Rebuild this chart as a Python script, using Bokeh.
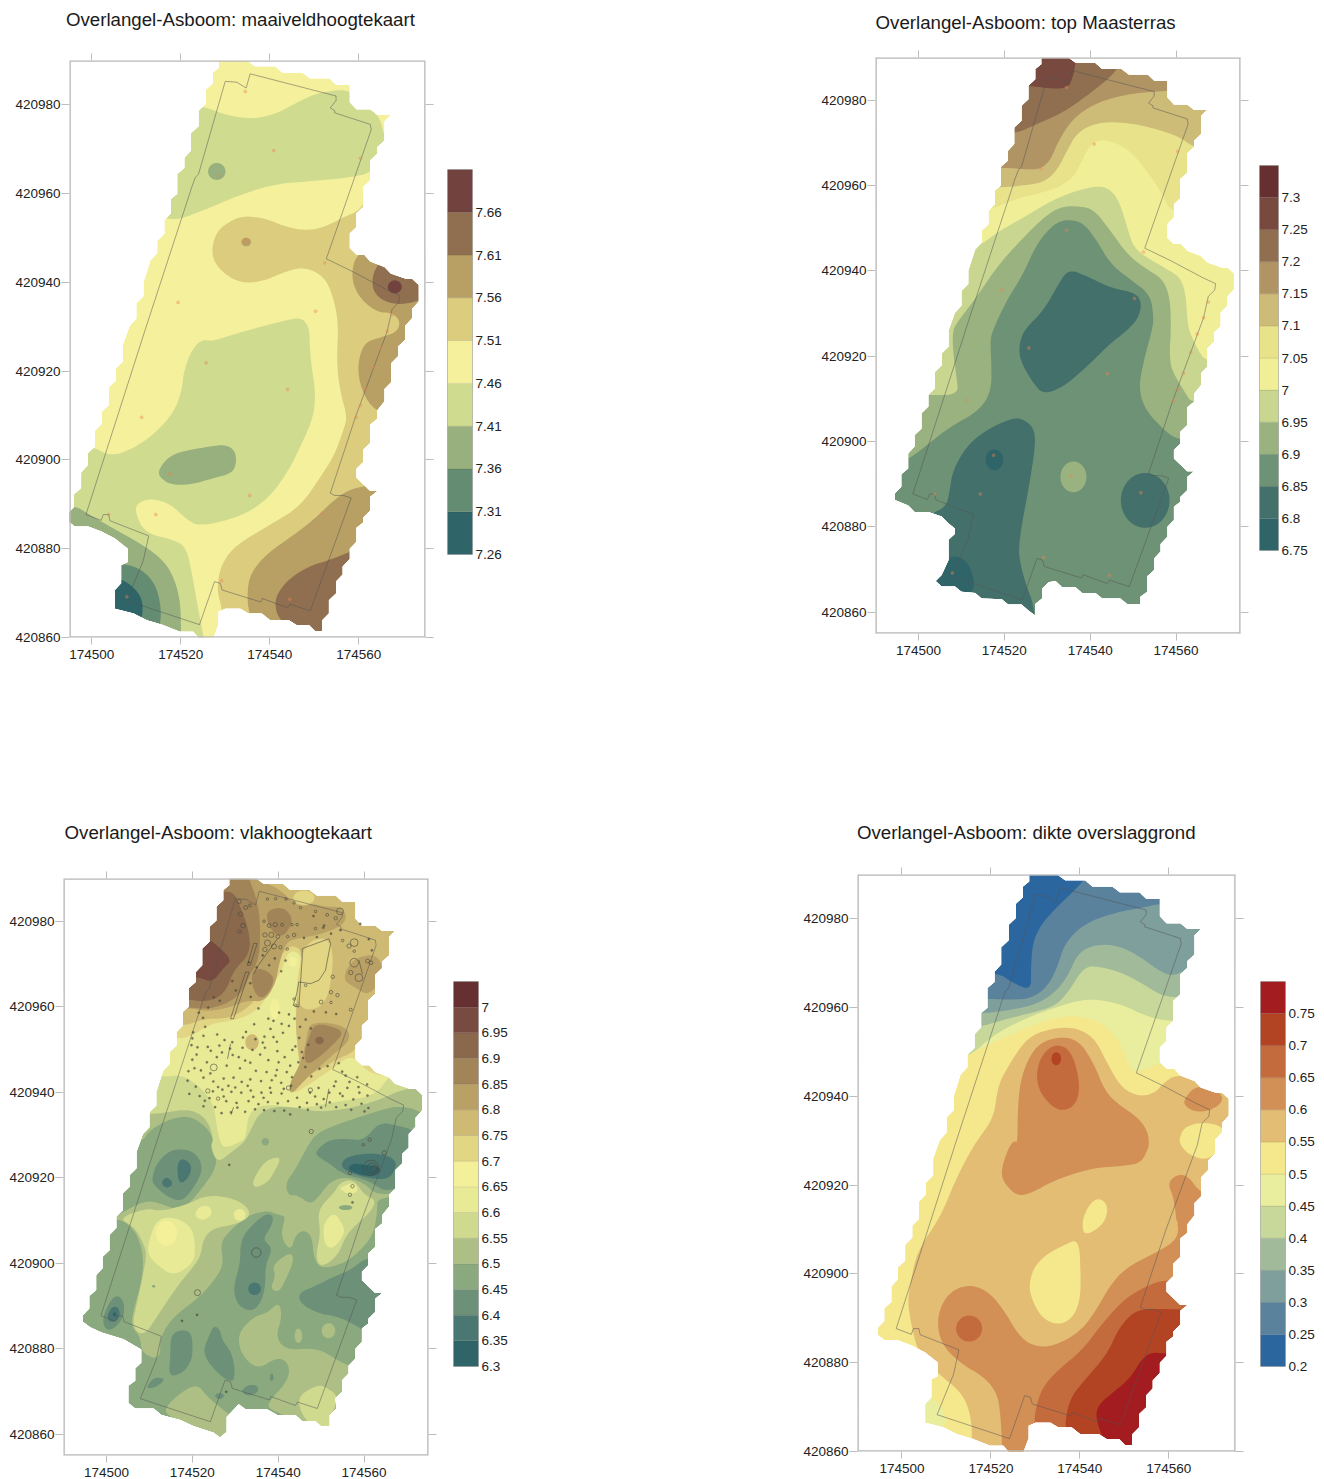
from bokeh.plotting import figure
from bokeh.layouts import row, column
from bokeh.models import LinearAxis, FixedTicker, Range1d, Spacer, Title
from bokeh.embed import file_html
from bokeh.resources import INLINE
import math

X0, Y0 = 174500, 420000
FONT = "Liberation Sans"
TICK_GREY = "#bdbdbd"
TEXT = "#222222"
X_TICKS = [174500, 174520, 174540, 174560]
Y_TICKS = [420860, 420880, 420900, 420920, 420940, 420960, 420980]

# map outline of the interpolated area, metres relative to X0 / Y0
NORTH = [(7,926),(8.5,930.2),(10,931.8),(10,935.3),(11.6,936.9),(11.6,940),(13.2,945),(14.7,946.6),(14.7,949.4),
 (16.3,950.9),(16.3,954),(17.8,955.6),(17.8,958.8),(19.2,960),(19.2,964.4),(20.8,965.8),(20.8,968.1),(22.3,969.7),
 (22.3,973.6),(24,975.2),(24,978.7),(25.6,980.2),(25.6,983.4),(27.2,984.9),(27.2,987.3),(28.6,988.4),(28.6,990),
 (34.9,990),(36.7,988.7),(41.2,988.7),(42.8,987.3),(47.3,987.3),(49,986),(53.4,986),(55,984.5),(58,984.5),(58,980.6),
 (59.5,979),(62.6,979),(64.2,977.7),(67.2,977.7),(65.8,976.3),(65.8,972),(64.2,970.5),(64.2,969),(62.6,967.5),
 (62.6,963),(61,961.5),(61,957),(59.5,955.6),(59.5,952.5),(58,951),(58,947.7),(59.5,946.3),(61.2,946.3),(62.6,944.7),
 (65.8,943.5),(67.2,942),(70.6,940.8),(72,940.8),(73.5,939.4),(73.5,935.7),(72,934),(72,931.9),(70.4,930.2),(70.4,927),
 (68.9,925.6),(68.9,923.4),(67.3,921.8),(67.3,917.5),(65.8,916),(65.8,913.2),(64.2,911.2),(64.2,909.3),(62.6,908),
 (62.6,903.8),(61,902.3),(61,899.5),(59.5,898),(59.5,896),(62.6,893),(64.2,893),(62.6,891.7),(62.6,888.6),(61,887),
 (61,885.9),(59.5,884.7),(59.5,881.6),(58,880),(58,877.7),(56.4,876),(56.4,874.2),(54.9,872.6),(54.9,869.9),(53.3,868.4)]
WEST = [(-5.5,886.3),(-5.5,887.8),(-4,889.4),(-4,892.3),(-2.4,893.7),(-2.4,897.2),(-0.9,898.8),(-0.9,901.5),(0.7,903),
 (0.7,906.6),(2.3,908.2),(2.3,910.9),(3.8,912.4),(3.8,916.3),(5.4,917.9),(5.4,920.6),(7,922.2)]
SOUTH_TR = [(53.3,864.8),(51.7,863.6),(51.7,861.9),(48.6,861.9),(47,863.2),(42.8,863.2),(41.2,864.5),(38.1,864.5),
 (36.5,865.9),(33.4,865.9),(31.9,867.3),(30.3,867),(28.8,865.5),(28.8,863.2),(27.2,861.9),(27.2,859.2),(25.6,860.4),
 (24,861.8),(20.9,861.8),(19.4,863),(14.7,863.2),(13.2,864.5),(10,864.8),(8.5,866),(5.4,866),(4,867.3),(5.4,868.7),
 (7,872.2),(7,877),(8.5,878.4),(8.5,879.6),(7,880.8),(5.4,882.4),(2.3,883.5),(-0.9,883.5),(-2.4,885)]
SOUTH_TL = [(53.3,865.4),(51.8,863.9),(51.8,861.4),(50.2,861.4),(48.8,862.8),(46,862.8),(44.3,863.9),(40.1,863.9),
 (38.2,865.4),(35.2,865.4),(33.4,866.5),(30,866.5),(28.5,865.8),(28.5,863),(27,859),(24.8,859),(22.8,861.3),(19.8,861.3),
 (16,862.8),(12.4,863.9),(9.4,865.4),(5.2,866.5),(5.2,870.7),(6.6,872.2),(6.6,876.3),(8.1,877),(8.1,880),(5.2,882.3),
 (2.3,883.8),(-0.8,885),(-3.8,885)]
SOUTH_BL = [(53.6,866),(52,864.5),(52,861.9),(49.9,861.9),(48.7,863),(45.6,863),(44,864.5),(39.8,864.5),(37.4,865.8),
 (32.4,865.8),(30.8,867),(28,864),(28,860.5),(26.4,859.2),(25,860.3),(20.2,861.9),(17.2,863.3),(12.8,864.5),(11,866),
 (6.7,866),(5.1,867.3),(5.1,871.3),(6.7,872.5),(6.7,875.4),(8.1,876.7),(8.1,879.8),(4,882.2),(-1.1,883.8),(-3.8,885)]

# excavation outline, drawn on all four maps
SITE_X = [35.6,54.9,54.9,53.6,54.6,54.6,62.6,62.8,52.7,54.4,58.9,66.4,69.2,69,67.5,66.4,59.3,53.6,54.6,56.6,58.3,49.1,44.5,44,38.3,38,29.3,28.9,27.6,24.2,7.9,11.6,12.8,4.1,3.8,2.6,2.1,-1.3,12,22.1,22.3,23.3,24,30,32.6,34.7,35.6]
SITE_Y = [987,982,981,979.3,978.7,978.2,975.6,974.4,945.3,944.5,942.3,938.3,937,935.5,934,929,909.8,892.5,892,892,891.4,866,867.5,866.7,868.8,868,870.7,872.2,872.6,862.9,868.3,877.4,882.9,886.3,887.7,887.7,886.4,887.7,929.3,960.3,961,963.7,964.4,985.3,985.1,983.8,987]

# borehole positions
BORE_X = [34.5,40.9,60.4,28.5,34.5,52.4,19.4,50.3,67.5,66.4,64.9,63.4,61.7,60.4,59.4,25.7,44,11.2,17.5,35.5,51.8,14.4,3.8,29.2,7.9,44.5]
BORE_Y = [983,969.7,968,964,949.5,944.4,935.5,933.5,932.7,929,925.2,920.9,916,912.3,909.6,921.9,915.9,909.6,896.8,892,888,887.7,887.7,872.8,869.2,868.6]

def ell(cx, cy, rx, ry):
    return [(cx + rx*math.cos(2*math.pi*i/14), cy + ry*math.sin(2*math.pi*i/14)) for i in range(14)]

# ---- colour scales (lowest class first)
TL_VALUES = [7.26,7.31,7.36,7.41,7.46,7.51,7.56,7.61,7.66]
TL_COLORS = ["#2f6468","#648c72","#97b07d","#cfdb8f","#f5f09b","#dccd7e","#b8a064","#906f50","#72423e"]
TR_VALUES = [6.75,6.8,6.85,6.9,6.95,7.0,7.05,7.1,7.15,7.2,7.25,7.3]
TR_COLORS = ["#2f6468","#44706c","#6e9275","#99b27f","#c8d690","#f0ef98","#e8e28b","#cdbb78","#b19464","#906f50","#77493f","#662f30"]
BL_VALUES = [6.3,6.35,6.4,6.45,6.5,6.55,6.6,6.65,6.7,6.75,6.8,6.85,6.9,6.95,7.0]
BL_COLORS = ["#2f6468","#4a7771","#6d9078","#8aa97e","#adbf85","#cfda8f","#e9ea96","#f4f09a","#e2d583","#cfba74","#b9a065","#a28459","#8a684c","#774b40","#662f30"]
BR_VALUES = [0.2,0.25,0.3,0.35,0.4,0.45,0.5,0.55,0.6,0.65,0.7,0.75]
BR_COLORS = ["#2c669e","#5a829d","#7f9f9c","#a1ba9a","#c8d79a","#e9ed9e","#f5e78c","#e3bd74","#d29056","#c46b3e","#b24424","#a21c20"]

# ---- maaiveldhoogte
TL_BASE = TL_COLORS[4]
TL_LAYERS = [
 (TL_COLORS[3],[(16.9,953.3),(25.9,956.5),(31.9,959.2),(40.9,962.2),(50.6,962.9),(61.1,964),(63.8,965.9),(66.4,970.5),(65.6,973.8),(64.5,977.6),(61.9,979.5),(58.1,983.6),(51.4,982.9),(46.9,981),(41.6,978),(36.4,976.8),(30.4,977.6),(25.5,979.5),(22,980),(15,973.5),(12,958.4)]),
 (TL_COLORS[2],ell(28.1,965,2,1.95)),
 (TL_COLORS[5],[(60.4,956.3),(56.6,954.7),(52.1,952.4),(48.4,951.7),(43.9,952.4),(39.4,954.3),(34.9,955),(31.9,954.3),(28.1,951.7),(26.8,947.1),(28.1,943.4),(32.6,940),(37.9,940),(43.9,942.6),(47.6,943.4),(51.4,941.9),(53.6,938.9),(55.5,931.4),(55,921.8),(55.9,915),(57.4,909.8),(56.6,906.8),(54.4,900.8),(51.4,896.2),(46.9,889.5),(39.4,885),(31.9,880.5),(28.9,876),(28.1,870.7),(29.3,866.5),(30,858),(80,858),(80,960),(62,960)]),
 (TL_COLORS[6],ell(34.7,949.1,1.1,1)),
 (TL_COLORS[6],[(59.6,946.5),(58.4,942.6),(58.9,938.9),(61.1,935.5),(64.5,933.2),(67.5,933.2),(69.4,931.2),(68.5,928.7),(64.1,927.4),(61.1,926.3),(59.6,921),(60.8,915),(64.1,910.5),(72,910),(80,930),(80,950),(66,950)]),
 (TL_COLORS[6],[(58.9,894),(54.4,891),(50.6,887.2),(46,883.5),(39.4,879),(35.6,874.4),(34.9,869.9),(35.3,865.4),(38,858),(70,860),(70,895)]),
 (TL_COLORS[7],[(64.1,943.9),(63,941.1),(63.2,938.1),(65.3,935.9),(68.6,935),(72.4,935.5),(80,938),(80,945),(68,948)]),
 (TL_COLORS[7],[(58.9,879.7),(54.4,877.8),(48.4,875.9),(43.9,872.9),(41.3,869.2),(41.3,866.2),(42.4,863.9),(48,858),(62,860),(62,880)]),
 (TL_COLORS[8],ell(68.1,939,1.6,1.5)),
 (TL_COLORS[3],[(48.8,932.5),(41.6,931),(31.9,928.3),(27.4,926.8),(24.4,927.1),(22.1,924.1),(20.6,919.5),(20.3,915.8),(18.4,910.5),(13.1,904.9),(7.1,901.5),(3.4,901.1),(0.4,903),(-12,905),(-12,880),(10,855),(26,855),(25.1,860.2),(24.4,863.9),(23.3,869.9),(22.1,876.7),(21,880.5),(18.4,882),(12,883.5),(9.8,888),(10.1,890.2),(13.1,891.4),(17.6,890.2),(21.4,886.5),(24.4,885),(33.4,887.2),(39.4,891),(43.9,897),(46.9,903),(49.9,909.8),(50.3,915.8),(49.1,922.6)]),
 (TL_COLORS[2],[(15,897.7),(16.9,900.4),(19.9,901.9),(27.4,903.2),(30.4,903.4),(32.3,901.9),(32.5,899.2),(31.5,897),(27.4,895.9),(22.1,894.4),(17.6,894.4),(15.2,896.2)]),
 (TL_COLORS[2],[(-3.8,889.8),(-1.1,888),(4.1,885),(11.6,880.8),(16.1,877.4),(18.4,873.7),(19.9,868.4),(20.1,861.3),(20,855),(0,855),(-12,875),(-12,889)]),
 (TL_COLORS[1],[(6.6,876.7),(10.9,875.6),(14.3,872.2),(15.6,866.9),(15.4,862.4),(12,855),(0,860),(0,878)]),
 (TL_COLORS[0],[(6.4,873.3),(9.4,871.4),(11.3,868.8),(11.5,865.4),(10.9,863.9),(5,860),(0,868),(0,875)]),
]

# ---- top Maasterras
def south_of(pts, east=(85,915)):
    return pts + [east, (85,840), (-15,840), (-15, pts[0][1])]
TR_BASE = TR_COLORS[10]
TR_LAYERS = [
 (TR_COLORS[9],[(10,983.4),(26,983.4),(30.7,982.7),(34.6,982.8),(35.7,984.5),(36.7,988.7),(37,995),(90,995),(90,840),(-15,840),(-15,983)]),
 (TR_COLORS[8],[(10,972),(22.5,972),(27.5,974.4),(33.8,977.1),(40.8,982.2),(46.6,987.1),(50,995),(90,995),(90,840),(-15,840),(-15,972)]),
 (TR_COLORS[7],[(10,964),(20.2,964.2),(24.4,963.8),(28.3,963.8),(30.7,965.8),(32.6,970.5),(36.1,975.9),(41.6,979.5),(48.6,981.4),(54.8,982),(57.9,982.2),(90,982.2),(90,840),(-15,840),(-15,964)]),
 (TR_COLORS[6],south_of([(19,959.5),(24.4,960),(29.1,960.7),(32.2,963.4),(34.6,968.1),(36.9,972.4),(41.6,974.8),(48.6,974.8),(55.6,973.2),(61,971.3),(64.1,968.9)],(85,962))),
 (TR_COLORS[5],south_of([(16.3,954),(21.3,956.4),(27.5,958),(32.6,959.5),(36.1,961.9),(38.1,965.8),(40,969.7),(43.1,970.9),(48.6,968.9),(53.2,963.4),(56.3,958.8),(59.5,952.5)],(85,950))),
 (TR_COLORS[4],south_of([(13.2,945),(18.2,949),(25.2,952.9),(32.2,957.2),(41.6,960.2),(45.1,958.8),(47,955.6),(48.6,950.2),(50.1,945.5),(53.2,943.1),(57.9,940.4),(61,938.4),(62.2,934.9),(62.6,929),(63,926),(64.8,922),(67.1,918.3)],(85,917))),
 (TR_COLORS[3],[(-15,910.9),(2.3,910.9),(9.3,910.9),(8.9,915),(8.1,920.6),(7.9,926),(9.3,928.3),(13.5,933.8),(18.2,940.8),(22.9,946.2),(29.1,952.5),(33,955),(36.9,955.2),(40.8,954.5),(44.7,949.4),(48.6,943.9),(52.5,940.8),(57.1,938),(58.7,933),(58.8,925.2),(58.5,922.2),(58.7,917.5),(60.3,914.4),(62.2,911.3),(63.7,908.9),(85,905),(85,840),(-15,840)]),
 (TR_COLORS[2],[(-15,890),(-2.3,895.8),(1.9,899.1),(7.3,903.4),(14.3,907.3),(17,912),(17,918.3),(16.7,923.8),(17.4,926.3),(20.5,933),(24.4,939.2),(27.5,946.3),(31.4,950.9),(34.6,952.1),(38.4,951.3),(41.6,947),(44.7,941.6),(49.3,938),(54,934.5),(54.8,929),(54.4,926.1),(52.5,919.1),(51.3,912.8),(52.5,908.1),(55.6,904.2),(61,899.5),(85,899.5),(85,840),(-15,840)]),
 (TR_COLORS[1],[(34.9,940.4),(39.2,938.8),(44.7,936),(50.5,934.9),(52,932.6),(51.3,929),(48.6,926),(44.7,923),(39.2,917.5),(33.8,912.8),(29.1,911),(26.8,913.6),(24,918.3),(23.3,921.8),(24.4,926),(29.1,930.6),(32.6,936.9)]),
 (TR_COLORS[1],[(24.1,905.4),(21.8,905.4),(17,903.4),(11.6,899.5),(8,893.3),(7.3,888.6),(6.5,884.7),(3,883.1),(0,880),(0,865),(10,858),(27.3,855),(26.8,862),(25.2,865.9),(23.7,871.4),(23.3,875.3),(24.4,882.3),(26,890.9),(27.3,899.5),(26.8,903.4)]),
 (TR_COLORS[0],ell(17.7,895.7,2.1,2.5)),
 (TR_COLORS[0],[(5.4,871.4),(8.1,873.4),(11.2,872.2),(13,867.9),(12.8,864.8),(8,860),(0,866)]),
 (TR_COLORS[1],ell(52.8,886.2,5.8,6.6)),
 (TR_COLORS[3],ell(36.1,891.7,3.1,3.7)),
]

# ---- vlakhoogte
BL_BASE = BL_COLORS[3]
BL_LAYERS = [
 (BL_COLORS[4],[(-15,910),(2.3,910.9),(6.3,908.2),(8.2,903.9),(8.6,899.2),(7.9,894.5),(6.3,889.1),(5.7,885.2),(7.9,882.8),(8.2,878.9),(12.5,877.3),(12.5,882.8),(15.6,887.5),(21.9,892.2),(25.8,896.9),(27.3,900),(26.5,904.7),(28.9,907.8),(33.2,911.3),(37.4,912.3),(39,911.7),(40.9,911.1),(41.7,910.9),(40.5,906.3),(42.9,902.7),(44,906.6),(46,907.8),(47.9,906.3),(48.3,900.8),(50.3,898.6),(55.3,900),(58.4,902.3),(62,906.3),(63.1,911.7),(63,916),(85,916),(85,995),(-15,995)]),
 (BL_COLORS[3],[(-15,925),(8.2,927.9),(9.8,931),(14.9,933.8),(19.5,934.5),(23.4,931.8),(25,928.7),(25.8,926.6),(25.4,921.9),(22.6,918),(19.5,914.1),(16.4,912.5),(13.3,913.7),(9.4,914.8),(4,912.1),(2.3,910.8),(-15,905)]),
 (BL_COLORS[3],[(41.7,918.8),(44,921.9),(46.4,926.6),(48.7,930.2),(53,932.2),(57.7,933.8),(62.3,935.3),(67.8,936.9),(73.2,935.7),(80,930),(80,912),(68.6,916.4),(62.7,916),(60,918.8),(55.3,920.3),(51.8,918.8),(49.5,915.6),(47.5,913.7),(44.4,916),(42.3,915.8)]),
 (BL_COLORS[5],[(-15,935),(9.8,934.8),(14.1,935.3),(19.5,936.1),(23.4,933.8),(25,929.1),(24.2,927.3),(25.8,923.4),(28.9,925.8),(32,928.1),(33.5,931),(35.9,935.7),(41.3,936.9),(49.1,935.3),(56.1,936.1),(63.1,938),(70.1,941.2),(85,942),(85,995),(-15,995)]),
 (BL_COLORS[6],[(-15,945),(12.9,943.5),(17.6,944.1),(21.9,941.2),(25,937.3),(25.8,931),(26.9,927.1),(28.9,927.3),(32,928.9),(32.4,929.5),(33.2,935.7),(37.4,937.3),(45.2,936.1),(53,937.7),(60.8,938.8),(63.9,940.8),(66.2,944.3),(85,950),(85,995),(-15,995)]),
 (BL_COLORS[8],[(-15,955),(16,952.5),(19.5,952.9),(24.2,956),(28.5,956.6),(32.4,957.6),(36.3,960.3),(38.2,964.6),(40.5,967.7),(42.1,972.4),(43.7,973.2),(45.6,971.6),(44.4,967),(44,957.6),(44.4,952.1),(45.6,946.6),(44.8,942.7),(42.9,939.2),(47.5,942),(52.6,945.5),(56.1,948.2),(58.1,947.8),(60.8,944.7),(65.8,943.5),(85,945),(85,995),(-15,995)]),
 (BL_COLORS[9],[(-15,955),(17.6,955.2),(22.6,957.2),(28.1,957.2),(32,959.1),(34.7,961.5),(37,966.6),(39.8,970.9),(41.7,973.2),(43.3,974.4),(45.6,973.2),(44.8,967),(44,957),(44.4,951.3),(45.2,945.1),(45.2,943.5),(49.5,945.1),(53.8,947.8),(57.7,949.4),(58.8,952.1),(85,952),(85,995),(-15,995)]),
 (BL_COLORS[8],[(45.6,973.2),(48.3,975.9),(51.8,975.9),(52.9,971.6),(52.2,965.4),(51.4,962.3),(49.9,959.9),(46.4,959.1),(44.4,961.1),(44.8,967)]),
 (BL_COLORS[10],[(-15,958),(18.8,959.9),(23.4,958.8),(28.9,959.9),(32.8,961.5),(36.7,961.1),(39.4,965.4),(40.2,970.1),(41.7,974.8),(43.7,975.9),(49.1,976.7),(54.6,978.7),(56.1,981),(54.6,983.4),(50.7,983.4),(48.3,984.1),(45.2,983.4),(42.9,984.9),(40.5,987.3),(36.7,989.2),(35.9,990.4),(36,995),(-15,995)]),
 (BL_COLORS[8],ell(46,985.5,2.5,1.7)),
 (BL_COLORS[10],[(56.1,969.3),(55.2,966.2),(57.7,964.6),(61.2,962.4),(64.7,967.7),(63.1,972.4),(58.4,971.6)]),
 (BL_COLORS[10],[(46.8,954.1),(47.5,956),(51,956.4),(56.1,955.2),(56.8,952.1),(53,949),(49.5,945.9),(46.4,943.1),(42.9,939.2),(42.5,941.9),(44.8,945.9),(46.1,949.8)]),
 (BL_COLORS[11],[(47.2,952.9),(48,955.2),(49.9,956),(53,955.2),(55.3,954),(53,951.3),(49.1,947.8),(46.4,946.3),(46.1,949.8)]),
 (BL_COLORS[12],ell(49.6,952.1,1,0.9)),
 (BL_COLORS[9],ell(33.9,951.7,1.6,1.9)),
 (BL_COLORS[11],[(-15,960),(18.8,959.9),(23.4,959.4),(28.1,960.7),(31.6,963.4),(33.2,967),(35.5,970.9),(35.9,978.7),(35.1,984.9),(33.2,990),(33.2,991),(-15,995)]),
 (BL_COLORS[12],[(-15,962),(18.8,961.9),(21.9,961.1),(25.8,961.9),(28.1,964.2),(29.6,968.5),(33.5,972.4),(33.2,977.9),(31.2,983.4),(29.6,986.9),(26.9,986.9),(-15,987)]),
 (BL_COLORS[13],[(23,976.3),(25.3,974.8),(29.3,970.9),(27.4,969.3),(24.6,965.5),(21.1,967.3),(10,966),(10,977)]),
 (BL_COLORS[11],[(37.4,982.6),(41.3,983.4),(43.7,980.3),(41.3,976.3),(39,977.1),(37.4,979.8)]),
 (BL_COLORS[11],[(33.5,967),(35.1,969.3),(38.6,967.7),(39,965.4),(36.7,961.9),(34.7,962.7)]),
 (BL_COLORS[7],ell(43.4,970.5,1,1.2)),
 (BL_COLORS[7],ell(39.2,959.5,1.1,2.4)),
 (BL_COLORS[3],ell(37,928.4,0.9,0.9)),
 (BL_COLORS[2],[(48.7,926.2),(51.8,928.9),(56.1,929.1),(60,928.7),(63.5,933),(67.8,932.2),(72.1,931),(80,925),(75,916),(67.4,917.6),(64.7,916.8),(60.8,919.5),(55.3,920.7),(51.8,923.4),(49.1,925)]),
 (BL_COLORS[1],[(54.4,923),(56.1,925),(61.6,925.8),(66.2,925),(67.8,923),(65.8,919.5),(60.8,919.9),(56.1,921.4)]),
 (BL_COLORS[0],[(56,922.3),(57.7,923.4),(60,923),(63.5,922.7),(63.9,921.1),(61.6,920.2),(57.7,921.1)]),
 (BL_COLORS[2],[(10.6,919.9),(11.7,923.4),(14.9,926.6),(19.5,926.6),(21.9,924.2),(22.3,921.1),(19.5,916.4),(17.2,914.4),(14.1,915.6),(11,918.3)]),
 (BL_COLORS[1],[(16.4,923),(17.6,924.6),(19.5,923.4),(19.8,921.5),(18.4,919.1),(16.8,918.7)]),
 (BL_COLORS[1],[(12.8,919.1),(14.1,920.3),(15.6,918.7),(14.5,917.6),(13.3,917.9)]),
 (BL_COLORS[5],[(9.4,912.9),(12.5,912.1),(18.8,913.7),(23.4,916),(29.6,915.2),(33.2,912.9),(33.2,910.5),(29.6,909),(25,908.2),(22.6,905.9),(21.9,901.6),(20.3,899.2),(16.4,894.5),(11.8,887.5),(8.6,882.8),(5.9,885.2),(7.1,890.6),(8.6,897.7),(9.4,902.3),(8.2,905.5),(6.3,908.6),(2.8,910.5)]),
 (BL_COLORS[6],[(11.8,910.2),(15.6,910.9),(19.9,908.6),(20.7,903.9),(20.3,900),(15.6,896.9),(11.8,899.6),(9.4,902.3),(10.2,906.3)]),
 (BL_COLORS[7],ell(14,907,2.5,3)),
 (BL_COLORS[6],[(20.3,911.3),(21.9,913.5),(24.2,913.3),(24.6,911.3),(22.3,909.8)]),
 (BL_COLORS[6],ell(31,911.3,1.4,1.4)),
 (BL_COLORS[5],[(37.4,924.2),(40.9,925),(39,921.1),(37.4,918.8),(34.7,917.6),(33.9,918.8),(35.5,921.9)]),
 (BL_COLORS[5],[(48.7,901.6),(49.9,907),(49.1,912.5),(53,916.4),(54.6,919.1),(57.7,919.5),(60,916),(62.8,914.8),(61.6,912.1),(57.7,908.6),(55.7,906.3),(53.8,901.6),(49.9,898.9)]),
 (BL_COLORS[6],[(50.7,909.4),(53,912.1),(55.3,908.6),(55.3,906.6),(53,903.5),(51,903.9),(50.5,907)]),
 (BL_COLORS[6],[(54.4,917.6),(57.7,919.1),(58.8,916.8),(56.5,916),(54.6,917.2)]),
 (BL_COLORS[3],ell(55.7,913,1.6,0.6)),
 (BL_COLORS[2],[(37.4,911.7),(39,910.9),(38.2,908.2),(36.3,905.5),(38.8,903.5),(37,899.6),(37,894.5),(35.9,890.6),(33.9,888.7),(30.8,889.8),(29.4,893.8),(31.2,900),(31.2,905.5),(34.3,909.4)]),
 (BL_COLORS[4],[(38.6,899.6),(42.9,902.7),(43.7,900.8),(42.1,896.9),(40.2,893.1),(38.1,894.1),(39.4,896.9)]),
 (BL_COLORS[1],ell(34.5,894,1.5,1.5)),
 (BL_COLORS[4],[(40.2,891),(40.9,887.5),(39.4,882.8),(41.7,879.7),(48.3,880.1),(51.4,878.9),(54.9,876.6),(57.7,875.8),(56.1,869.5),(53,864),(52.2,860.9),(49.1,860.9),(45.2,862.9),(38.2,865.6),(37.4,867.2),(42.5,872.7),(42.5,876.6),(39.8,878.1),(35.1,875),(31.2,878.9),(30.6,883.6),(34.3,887.5),(37.4,888.3)]),
 (BL_COLORS[4],ell(44.7,883,0.9,1.7)),
 (BL_COLORS[4],ell(51.7,884.2,1.6,1.8)),
 (BL_COLORS[5],[(44.4,868.8),(49.1,871.5),(51,871.1),(54.2,868.8),(52.2,864.1),(52.2,860.9),(49.1,860.9),(45.6,864.1)]),
 (BL_COLORS[4],[(13.3,865.6),(16.4,869.1),(21.1,871.9),(23.4,868.8),(27.3,865.6),(29.3,864.1),(28.1,859),(25,859.4),(18.8,861.7),(14.9,864.1)]),
 (BL_COLORS[2],[(14.9,882.8),(16.8,884.4),(19.9,884),(20.1,878.9),(19.5,876.6),(17.6,874.2),(14.5,873.4),(14.9,878.1)]),
 (BL_COLORS[2],[(25,885.5),(26.5,884.4),(26.9,882),(29.3,878.9),(30,874.2),(29.3,871.9),(25.8,874.2),(22.3,878.9),(23.8,882.8)]),
 (BL_COLORS[2],[(9.4,871.1),(11,873.3),(13.9,873),(11.8,871.1),(9.8,870.7)]),
 (BL_COLORS[2],[(31.2,869.9),(32.8,871.5),(35.1,871.5),(35.5,869.9),(33.2,868.8)]),
 (BL_COLORS[2],[(25,868.8),(26.1,869.8),(27.7,869.1),(26.5,868)]),
 (BL_COLORS[2],ell(38.5,873.3,0.4,0.9)),
 (BL_COLORS[2],[(-1.1,886.7),(0.9,891.4),(2.8,892.6),(4.2,890.6),(4,887.5),(2.4,885.2),(0.1,884)]),
 (BL_COLORS[1],[(0.1,887.5),(1.2,889.8),(2.8,889.8),(3.2,887.5),(2,886.3),(0.7,886.3)]),
 (BL_COLORS[0],ell(1.9,888,0.4,0.5)),
 (BL_COLORS[2],[(44.7,893),(48.3,894.5),(53,896.9),(56.9,898.4),(60.8,901.6),(70,902),(70,880),(60,884),(58.1,885.5),(53.8,887.5),(49.1,888.3),(45.2,890.6)]),
 (BL_COLORS[3],ell(11,894.6,0.4,0.3)),
]
# archaeological features on the vlakhoogte map: x, y, radius
FEATURE_RINGS = [(30.9,984.6,.5),(31.2,981.7,.5),(31.8,979,.55),(32.4,983.2,.45),(31,977.6,.4),(33.4,983.7,.35),(37.5,985.2,.3),(39.4,985.3,.3),(41.8,985.2,.3),(43.7,984.3,.3),(45.2,983.2,.3),(48.7,982.3,.3),(51.4,981.5,.35),(53.4,980.7,.4),(54.4,982.3,.8),(36.7,980,.3),(37.9,979,.45),(39.3,979.2,.5),(40.9,979.2,.35),(43.2,979.2,.3),(44.4,979.2,.3),(36.9,976.8,.5),(38.4,976.8,.6),(39.9,976.4,.45),(42.2,976.4,.3),(43.7,976.8,.4),(37.5,974.9,.7),(39,974.1,.6),(36.9,973.4,.5),(40.5,973.9,.4),(42.1,973.5,.3),(48.7,978.3,.3),(55,975.5,.3),(57.7,975,.9),(56.5,974.2,.5),(57.7,973,.3),(57.7,970.3,1),(60.8,970.7,.45),(61.6,970.3,.45),(56.9,968,.5),(58.8,966.8,.9),(52.7,967,.4),(52.3,963.4,.4),(53.8,962.7,.4),(50,961.1,.45),(52.3,961,.3),(56.9,959.3,.35),(46.4,965,.3),(43.7,961.8,.3),(44.1,960.3,.3),(25,945.8,.8),(23.6,940.3,.5),(26,938.5,.4),(47.5,940.5,.5),(42.4,941,.5),(47.7,930.8,.5),(61.6,922.3,1.8),(61.8,922.2,1.2),(62.2,922.1,.7),(64.7,925.8,.5),(34.9,902.5,1.1),(21.2,893.1,.7),(56.7,921.1,.4),(57.3,918,.4),(56.7,916,.4),(61.3,928.9,.4),(59.8,927.7,.3)]
FEATURE_DOT_X = [21.5,22.5,23,20.2,20,22.6,25.8,27.5,29.3,31.7,21.2,23.6,26.9,29.4,33.5,28,31.1,20,23.4,25.7,35.8,37.7,39.8,41.5,43.3,36.4,39.7,41.1,38.2,40.8,42.5,44.9,47,45.8,46.3,44.7,34.8,37.3,39.7,42,33.5,36,38.5,40.7,43.2,18.9,20.8,22.6,24.9,27.3,29.6,31.5,19.3,21.7,24,27,29.1,31.4,33.6,36.1,38.3,40.8,22.6,25.3,27.9,30.3,33.1,35.4,37.6,39.9,42.3,44.4,46.7,49,26.8,29,34.6,36.7,39.1,41.4,42.8,47.4,49.4,50.6,52,53.5,55.7,57.5,59.4,61,54.4,56.1,58.7,60.8,53.4,55.7,58.4,60.7,47.7,49.6,51.5,54.1,42.5,43.8,45.1,46.4,47.6,48.3,51.1,53.5,37.7,35.4,33.6,30.1,29.3,26.4,25,23.7,32.5,34.7,35,37.9,39.2,36.4,41.7,40.7,33.5,33.2,46,48.2,50.7,52.3,54.5,59.1,61.1,61.8,49,50.5,28.6,21.1,17.6,57.3,27.9,
 19.8,21,24.3,26.3,28.8,30.8,32.3,34,36.9,38.9,40.1,42.8,44,45.5,19.1,20.5,22,24.2,26,28.4,30,32.9,34.2,36.6,38.1,39.4,41.3,43,45,46.9,48.6,50,51.9,53,55,57,58.9,60.1,56.6,54.9,30.5,32.3,27.3,24.8,22.9,34.4,36.8,38.9,40.2,31.8]
FEATURE_DOT_Y = [958.6,957.4,955.3,954,952.6,953.2,953.5,952.2,951.7,950.4,950.5,950.6,949.3,948.7,946.9,946.2,945.6,947.6,947,948.2,948.8,947.5,949.6,948.2,949.9,951.6,951.8,953.9,954.8,956,955.5,952.7,951.1,948,945.9,947,945,944.7,945.2,944.7,943,942.6,942.8,942.2,943.5,942.7,941.3,943.4,942.5,943.2,943.4,942.4,939.6,939.1,938.6,940.6,940.1,939.9,940.4,939.9,939.9,939.7,936.7,936.5,937.9,937.5,937.9,937.2,937.7,937.4,937.9,938.7,937.5,937.2,935.1,935.3,936,935.8,935.6,935.7,934.8,939.9,941,938.4,937.6,936.5,937,938.3,937.3,936.3,939.7,941,941.2,939.2,942.5,943.9,943.5,941.8,943.7,945.5,946.1,946.8,958.2,957.2,955.3,957,954.9,958.9,958.7,958.3,957.2,959.6,962.3,963.8,966,961.4,962.2,959.8,954.1,952.4,969.2,969.7,971.3,972,970.8,968.3,965.5,970.4,976.1,981.2,979,977.1,977.9,979.4,975.8,973.2,976.3,978.5,923,887.9,886.5,914.2,869.9,
 951,948.8,949.7,950.9,950.2,948.2,947.4,949.9,950.4,952.9,947,946.2,950.7,949.4,944.9,945.6,945.1,944.4,941.2,941.5,941.1,941.5,938.9,938.7,941,943.9,940.8,941.5,936.5,935.9,939,936.4,939.9,941.4,939.1,935.9,939.9,935.5,942.4,944.8,936.4,935.4,939,940.2,938,955.9,953,956.7,958.6,952.8]
FEATURE_LINES = [
 [(32.4,968.1),(33.2,968.1),(29.6,957.2),(28.9,957.2),(32.4,968.1)],
 [(34.3,974.8),(35.1,974.8),(33.5,969.7),(32.8,969.7),(34.3,974.8)],
 [(39.8,975.9),(35.1,969.3),(34.3,967.7)],
 [(45.6,971.6),(45.6,973.6),(51.8,975.9),(52.2,974.8),(51,968.5),(49.5,966.2),(47.5,965.4),(44.8,965.8),(44.4,963.4),(43.5,960.3),(44.8,959.9),(45.6,971.6)],
 [(51.8,940.8),(51,936.5)],[(28.9,951.3),(28.2,947.8)],[(58.8,970.9),(59.6,967.7)],[(29.6,936.5),(29,934.7)],
]

# ---- dikte overslaggrond
def south_close(pts):
    return pts + [(90, pts[-1][1]), (90,840), (-15,840), (-15, pts[0][1])]
BR_BASE = BR_COLORS[0]
BR_LAYERS = [
 (BR_COLORS[1],south_close([(20.9,968.4),(25.2,965.4),(29,963.9),(29,968.4),(29.3,974.4),(31.2,978.6),(34.2,982),(38,985.7),(41,988.7),(44,995)])),
 (BR_COLORS[2],south_close([(19.6,962),(23.7,961.8),(29,962),(32.7,964.7),(35,969.2),(36.5,974.4),(41,979),(48.5,981.6),(55.2,982.7),(57.8,983.5)])),
 (BR_COLORS[3],south_close([(18.1,958.6),(23.7,959.4),(29.7,960.5),(34.2,963.2),(37.2,966.9),(39.5,972.2),(43.2,974.2),(48.5,974.1),(53.7,971.4),(58.2,968),(61.2,967.1),(64.2,968.8)])),
 (BR_COLORS[4],south_close([(16.4,955.3),(22.2,957.1),(28.2,958.6),(34.2,960.2),(37.2,963.2),(41,969.4),(44.7,969.2),(50,967.7),(55.2,964.7),(58.2,962.8),(62.3,962.2)])),
 (BR_COLORS[5],south_close([(14,949),(16.4,950),(20,953.4),(26,956.8),(33.5,959.8),(41.7,962.2),(49.2,960.9),(55.2,957.9),(60.8,956.8)])),
 (BR_COLORS[6],south_close([(12,948),(14.7,949.2),(20,951.9),(32.7,957.5),(39.5,958.3),(45.5,956.4),(49.2,951.9),(51.1,946.6),(52.2,945.5),(55.2,946.2),(57.8,947.7)])),
 (BR_COLORS[7],[(3.8,882.4),(2.7,885.8),(1.2,893.3),(2,898.6),(3.5,905.3),(8.7,912.9),(11.7,920.4),(14.7,926.4),(17,930.2),(20.7,935.3),(21.5,942.1),(23.7,946.6),(28.2,953.4),(33.5,955.3),(38.7,955.6),(43.2,953.4),(46.2,947.4),(49.2,942.1),(53,940),(56.7,940.6),(59,943.2),(62,945.1),(90,945),(90,855),(15.7,855),(15.7,863.2),(15.7,866.2),(14.7,870.8),(12.5,874.1),(8.6,877.1)]),
 (BR_COLORS[6],[(62.3,930.5),(63.5,933.1),(67.2,934.2),(71.7,933.5),(75,930),(70.6,927.1),(68,925.6),(64.2,927.1),(62.7,929)]),
 (BR_COLORS[6],[(39.8,908),(40.2,900.1),(40.1,894.1),(38.3,889.9),(34.9,888.4),(31.2,890.3),(29,894.8),(28.6,897.8),(29.7,901.6),(32.7,904.6),(36.5,906.5)]),
 (BR_COLORS[6],[(43.2,917),(45.5,916.6),(46.4,914.4),(45.2,911),(41.4,908.7),(40.5,910.2),(40.9,913.5)]),
 (BR_COLORS[8],[(26,929.3),(26,936.8),(26.7,944.4),(29.7,951.1),(34.2,953.4),(39.5,953),(43.2,947.4),(45.5,941.4),(48.5,938.3),(53,935.3),(55.2,932.3),(55.6,929.3),(55.2,927.9),(53.7,924.9),(49.2,924.3),(42.5,923.8),(34.2,921.1),(29.7,918.5),(26,917.4),(23,920.4),(22.2,923),(23.7,927.9),(25.2,930.2)]),
 (BR_COLORS[8],[(63.5,939.5),(66.1,942.5),(71,941.4),(72.5,939.1),(69.5,936.8),(65.7,936.5),(63.5,938)]),
 (BR_COLORS[8],[(61.6,912.1),(62.3,909.8),(61.2,907.2),(56.7,904.6),(50.7,901.6),(47,897.8),(43.2,891),(39.5,886.5),(33.5,883.5),(29,883.9),(26,886.5),(23,891.8),(19.2,896.3),(14.7,897.7),(10.2,895.6),(7.8,890.3),(8.7,884.3),(13.2,879.8),(18.5,876.8),(21.5,873),(22.2,867.7),(22.6,860),(22.6,850),(90,850),(90,912)]),
 (BR_COLORS[8],[(59.7,920.4),(61.6,922.3),(64.2,922.3),(67.2,918.1),(75,915),(75,905),(62,909),(61.2,917)]),
 (BR_COLORS[9],[(30.3,945.9),(31.6,949.6),(34.6,951.9),(38,950.4),(39.8,944.4),(39.8,939.8),(38,937.2),(35,936.8),(32,939.5),(30.5,942.4)]),
 (BR_COLORS[10],ell(34.7,948.5,1.1,1.5)),
 (BR_COLORS[9],ell(15.1,887.7,3,3)),
 (BR_COLORS[9],[(59.7,898.9),(55.2,897.4),(50,894.4),(45,888.8),(40.5,882.8),(35,878.3),(31.6,874.5),(30.1,870),(29.7,866.2),(30,855),(90,855),(90,899)]),
 (BR_COLORS[10],[(62.6,892),(54.5,892.2),(51.5,891),(48.5,887.3),(46.2,882),(41,876),(38,872.3),(36.8,867.7),(36.8,865),(37,855),(90,855),(90,892)]),
 (BR_COLORS[11],[(59,882),(56,882.4),(53.7,880.5),(51.5,876.8),(48.5,874.1),(44.7,871.1),(43.6,868.9),(44,866.2),(45.1,863.2),(45.5,862.5),(46,855),(90,855),(90,882)]),
 (BR_COLORS[5],[(5.5,872.3),(7.2,871.9),(9.5,869.2),(10,865.5),(3,860),(0,870)]),
]

def smooth(pts, n=3):
    for _ in range(n):
        out = []
        for i, (x, y) in enumerate(pts):
            x2, y2 = pts[(i+1) % len(pts)]
            out.append((0.75*x+0.25*x2, 0.75*y+0.25*y2))
            out.append((0.25*x+0.75*x2, 0.25*y+0.75*y2))
        pts = out
    return pts

def map_figure(title, title_offset, title_standoff, xr, yr, base, layers, south, w, h, bl, br, bt, bb, top_margin=0):
    p = figure(width=w, height=h, x_range=Range1d(*xr), y_range=Range1d(*yr), toolbar_location=None,
               output_backend="svg", x_axis_location=None, y_axis_location=None, frame_align=False,
               margin=(top_margin, 0, 0, 0),
               min_border_left=bl, min_border_right=br, min_border_top=bt, min_border_bottom=bb)
    p.grid.visible = False
    p.outline_line_color = None
    p.background_fill_color = "white"
    p.border_fill_color = "white"

    def axis(side, labels, tick):
        yside = side in ("left", "right")
        a = LinearAxis(ticker=FixedTicker(ticks=Y_TICKS if yside else X_TICKS))
        a.formatter.use_scientific = False
        a.axis_line_color = None
        a.major_tick_line_color = TICK_GREY
        a.major_tick_out = tick
        a.major_tick_in = 0
        a.minor_tick_line_color = None
        a.major_label_text_font = FONT
        a.major_label_text_font_size = "13.5px" if labels else "0px"
        a.major_label_text_color = TEXT if labels else None
        a.major_label_orientation = "horizontal"
        a.major_label_standoff = (1 if side == "left" else 5) if labels else 0
        p.add_layout(a, side)
    axis("left", True, 8)
    axis("below", True, 7)
    axis("above", False, 7)
    axis("right", False, 8)

    # filled classes: every class is painted over the previous one
    bx = [X0 + x for x, _ in NORTH + south + WEST]
    by = [Y0 + y for _, y in NORTH + south + WEST]
    rx = [xr[0]-4, xr[1]+4, xr[1]+4, xr[0]-4]
    ry = [yr[0]-4, yr[0]-4, yr[1]+4, yr[1]+4]
    p.patch(rx, ry, fill_color=base, line_color=None)
    for color, pts in layers:
        s = smooth(pts)
        p.patch([X0 + x for x, _ in s], [Y0 + y for _, y in s], fill_color=color, line_color=None)
    # everything outside the interpolated area stays white (painted repeatedly so the frame edge pixels clear)
    for _ in range(4):
        p.multi_polygons(xs=[[[rx, bx]]], ys=[[[ry, by]]], fill_color="white", line_color=None)
    p.line([X0 + v for v in SITE_X], [Y0 + v for v in SITE_Y], line_color="#555555", line_width=0.6, line_alpha=0.85)
    # frame line on top of the mask
    p.line([xr[0], xr[1], xr[1], xr[0], xr[0]], [yr[0], yr[0], yr[1], yr[1], yr[0]], line_color="#b8b8b8", line_width=2.6)
    p.title = Title(text=title, align="left", offset=title_offset, text_font=FONT, text_font_size="18.7px",
                    text_font_style="normal", text_color="#1a1a1a", standoff=title_standoff, vertical_align="top")
    return p

def add_bores(p):
    p.scatter([X0 + v for v in BORE_X], [Y0 + v for v in BORE_Y], size=3, marker="circle",
              fill_color="#ef8a5a", fill_alpha=0.35, line_color="#ea8050", line_width=0.5, line_alpha=0.55)

def legend_figure(values, colors, w, h, bl, br, bt, bb):
    step = 0.05
    p = figure(width=w, height=h, x_range=Range1d(0, 1), y_range=Range1d(values[0], values[-1] + step),
               toolbar_location=None, output_backend="svg", x_axis_location=None, y_axis_location=None, frame_align=False,
               min_border_left=bl, min_border_right=br, min_border_top=bt, min_border_bottom=bb)
    p.grid.visible = False
    p.outline_line_color = "#bbbbbb"
    p.quad(left=0, right=1, bottom=values, top=[v + step for v in values], fill_color=colors,
           line_color="#000000", line_alpha=0.12, line_width=0.6)
    a = LinearAxis(ticker=FixedTicker(ticks=values))
    a.axis_line_color = None
    a.major_tick_line_color = None
    a.major_tick_out = 0
    a.major_tick_in = 0
    a.minor_tick_line_color = None
    a.major_label_standoff = 3
    a.major_label_text_font = FONT
    a.major_label_text_font_size = "13.5px"
    a.major_label_text_color = TEXT
    a.major_label_orientation = "horizontal"
    a.major_label_overrides = {v: f"{v:g}" for v in values}
    p.add_layout(a, "right")
    return p

X_A = (174495, 174575); X_B = (174490, 174575)
Y_A = (420860, 420990); Y_B = (420855, 420990)

m1 = map_figure("Overlangel-Asboom: maaiveldhoogtekaart", -3.6, 43, X_A, Y_A, TL_BASE, TL_LAYERS, SOUTH_TL, 440, 760, 69, 15, 80, 103, top_margin=-20)
add_bores(m1)
l1 = legend_figure(TL_VALUES, TL_COLORS, 80, 740, 7, 48, 169, 186)
m2 = map_figure("Overlangel-Asboom: top Maasterras", 0, 31, X_B, Y_B, TR_BASE, TR_LAYERS, SOUTH_TR, 445, 755, 65, 15, 72, 107, top_margin=-15)
add_bores(m2)
l2 = legend_figure(TR_VALUES, TR_COLORS, 69, 740, 4, 46, 165, 190)
m3 = map_figure("Overlangel-Asboom: vlakhoogtekaart", 1, 53, X_B, Y_B, BL_BASE, BL_LAYERS, SOUTH_BL, 443, 739, 63, 15, 138, 24)
ring_x = [X0 + r[0] for r in FEATURE_RINGS]; ring_y = [Y0 + r[1] for r in FEATURE_RINGS]; ring_r = [r[2] for r in FEATURE_RINGS]
m3.circle(x=ring_x, y=ring_y, radius=ring_r, fill_color=None, line_color="#4a4a3c", line_width=0.6)
m3.scatter([X0 + v for v in FEATURE_DOT_X], [Y0 + v for v in FEATURE_DOT_Y], size=2.2, marker="circle", fill_color="#4a4a3c", fill_alpha=0.7, line_color="#4a4a3c", line_width=0.3)
for ln in FEATURE_LINES:
    m3.line([X0 + x for x, _ in ln], [Y0 + y for _, y in ln], line_color="#4a4a3c", line_width=0.6)
l3 = legend_figure(BL_VALUES, BL_COLORS, 80, 739, 10, 45, 241, 113)
m4 = map_figure("Overlangel-Asboom: dikte overslaggrond", -0.6, 45, X_B, Y_A, BR_BASE, BR_LAYERS, SOUTH_TL, 450, 739, 57, 15, 134, 28)
l4 = legend_figure(BR_VALUES, BR_COLORS, 74, 739, 10, 39, 241, 113)

page = column(
    row(m1, l1, Spacer(width=290, height=10), m2, l2, spacing=0),
    row(m3, l3, Spacer(width=277, height=10), m4, l4, spacing=0),
    spacing=0)
open("out.html", "w").write(file_html(page, INLINE))
